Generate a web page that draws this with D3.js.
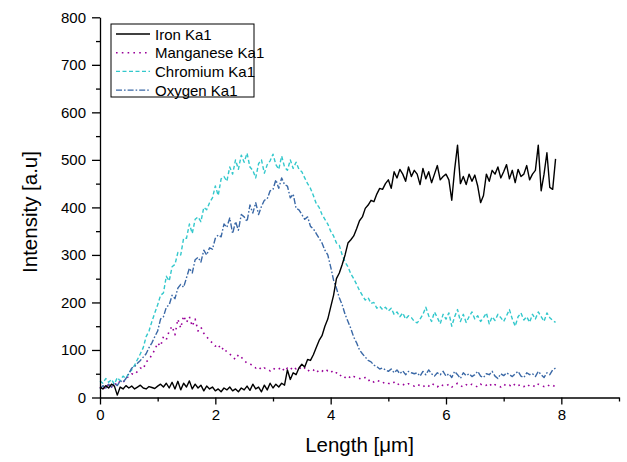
<!DOCTYPE html>
<html>
<head>
<meta charset="utf-8">
<script src="https://cdn.jsdelivr.net/npm/d3@7"></script>
<style>
  html, body { margin: 0; padding: 0; background: #fff; }
  svg { display: block; font-family: "Liberation Sans", Arial, sans-serif; }
</style>
</head>
<body>
<svg id="chart" width="627" height="462"></svg>
<script>
// Line-scan positions (µm)
const lengthUm = [
  0.00,0.05,0.10,0.15,0.20,0.25,0.30,0.35,0.40,0.45,
  0.50,0.55,0.60,0.65,0.70,0.75,0.80,0.85,0.90,0.95,
  1.00,1.05,1.10,1.15,1.20,1.25,1.30,1.35,1.40,1.45,
  1.50,1.55,1.60,1.65,1.70,1.75,1.80,1.85,1.90,1.95,
  2.00,2.05,2.10,2.15,2.20,2.25,2.30,2.35,2.40,2.45,
  2.50,2.55,2.60,2.65,2.70,2.75,2.80,2.85,2.90,2.95,
  3.00,3.05,3.10,3.15,3.20,3.25,3.30,3.35,3.40,3.45,
  3.50,3.55,3.60,3.65,3.70,3.75,3.80,3.85,3.90,3.95,
  4.00,4.05,4.10,4.15,4.20,4.25,4.30,4.35,4.40,4.45,
  4.50,4.55,4.60,4.65,4.70,4.75,4.80,4.85,4.90,4.95,
  5.00,5.05,5.10,5.15,5.20,5.25,5.30,5.35,5.40,5.45,
  5.50,5.55,5.60,5.65,5.70,5.75,5.80,5.85,5.90,5.95,
  6.00,6.05,6.10,6.15,6.20,6.25,6.30,6.35,6.40,6.45,
  6.50,6.55,6.60,6.65,6.70,6.75,6.80,6.85,6.90,6.95,
  7.00,7.05,7.10,7.15,7.20,7.25,7.30,7.35,7.40,7.45,
  7.50,7.55,7.60,7.65,7.70,7.75,7.80,7.85,7.90
];

// Fe Kα1 counts
const ironKa1 = [
  22,18,25,20,28,24,5,22,18,25,
  20,24,18,22,26,20,18,23,21,19,
  24,28,22,30,20,32,18,34,16,30,
  22,35,18,28,20,26,14,24,18,22,
  14,18,12,20,16,22,14,18,12,20,
  16,24,15,28,18,22,12,26,16,30,
  20,28,22,30,26,58,38,52,48,62,
  70,64,80,78,90,105,120,130,150,165,
  190,215,250,262,280,300,325,332,340,355,
  372,380,398,405,415,412,428,440,438,450,
  458,440,475,462,480,470,455,485,465,478,
  470,448,482,460,475,452,470,488,458,465,
  470,458,415,480,531,450,465,448,470,455,
  468,445,410,425,470,455,478,470,485,462,
  475,490,460,478,452,480,465,470,488,458,
  470,478,531,435,470,515,442,438,502
];

// Mn Kα1 counts
const manganeseKa1 = [
  20,25,18,28,22,30,26,35,32,40,
  45,50,48,55,62,60,75,80,90,100,
  115,108,128,122,140,150,132,165,146,172,
  158,170,150,165,140,148,135,128,120,115,
  108,112,100,105,95,92,85,80,90,85,
  78,72,70,68,62,65,58,62,60,56,
  62,58,60,64,55,62,58,65,60,64,
  58,62,55,60,58,52,58,55,60,56,
  58,50,52,45,48,42,46,40,44,42,
  40,38,42,35,38,32,36,34,30,33,
  30,28,32,26,30,28,25,29,26,24,
  28,25,22,27,24,30,26,22,28,25,
  24,28,22,26,30,25,22,27,24,28,
  25,22,28,24,26,30,23,27,25,22,
  28,24,26,22,29,25,27,23,28,24,
  26,22,28,25,23,27,24,26,22
];

// Cr Kα1 counts
const chromiumKa1 = [
  35,30,40,32,38,28,42,35,45,40,
  52,58,68,80,92,105,128,140,160,178,
  195,215,220,255,245,275,280,305,300,335,
  335,365,345,375,380,370,400,395,410,420,
  445,425,460,465,455,485,470,500,480,510,
  495,514,485,478,462,492,500,472,490,498,
  512,490,480,508,485,478,500,482,495,480,
  475,462,450,440,425,408,400,385,375,365,
  350,340,325,320,300,285,275,260,250,238,
  225,215,205,210,198,200,188,192,185,190,
  182,188,175,180,170,178,165,172,168,160,
  157,165,175,190,172,160,180,168,155,175,
  165,178,150,170,185,160,175,158,170,180,
  165,172,160,168,178,155,170,162,175,168,
  160,172,185,165,150,170,178,163,170,158,
  175,165,180,170,160,178,168,162,158
];

// O Kα1 counts
const oxygenKa1 = [
  18,25,20,28,22,30,25,35,32,40,
  50,62,65,72,78,85,92,105,115,128,
  140,165,170,190,195,215,208,230,238,232,
  252,272,262,290,295,285,310,300,315,312,
  335,342,338,365,358,378,345,370,352,385,
  380,370,405,388,410,385,402,415,418,435,
  438,458,440,462,448,445,420,428,398,395,
  385,375,380,360,355,345,335,325,310,300,
  275,247,230,210,195,175,160,145,127,115,
  100,92,85,78,75,68,65,60,62,58,
  55,60,52,58,50,56,48,55,52,50,
  52,45,55,48,58,50,45,52,48,55,
  45,50,42,55,48,40,52,46,50,44,
  48,55,45,42,50,48,55,45,40,50,
  46,52,48,44,50,55,45,42,52,48,
  50,44,55,48,42,52,48,58,62
];

const seriesNames = ["Iron Ka1", "Manganese Ka1", "Chromium Ka1", "Oxygen Ka1"];
const xMajorTicks = [0, 2, 4, 6, 8];
const xMinorTicks = [1, 3, 5, 7, 9];
const yMajorTicks = [0, 100, 200, 300, 400, 500, 600, 700, 800];
const yMinorTicks = [50, 150, 250, 350, 450, 550, 650, 750];

const styles = {
  "Iron Ka1":      { values: ironKa1,      color: "#000000", width: 1.4, dash: null },
  "Manganese Ka1": { values: manganeseKa1, color: "#990099", width: 1.6, dash: "1.6,4.2" },
  "Chromium Ka1":  { values: chromiumKa1,  color: "#33c8cc", width: 1.4, dash: "4,2.5" },
  "Oxygen Ka1":    { values: oxygenKa1,    color: "#3a68a6", width: 1.4, dash: "6,2,1.6,2" }
};

const svg = d3.select("#chart");

const x = d3.scaleLinear().domain([0, 9]).range([100, 619]);
const y = d3.scaleLinear().domain([0, 800]).range([397.5, 17.3]);

// Data lines (iron drawn last so it sits on top)
const drawOrder = ["Manganese Ka1", "Chromium Ka1", "Oxygen Ka1", "Iron Ka1"];
const line = d3.line()
  .x((d, i) => x(lengthUm[i]))
  .y(d => y(d));

const plot = svg.append("g");
drawOrder.forEach(name => {
  const s = styles[name];
  plot.append("path")
    .datum(s.values)
    .attr("d", line)
    .attr("fill", "none")
    .attr("stroke", s.color)
    .attr("stroke-width", s.width)
    .attr("stroke-linejoin", "round")
    .attr("stroke-dasharray", s.dash);
});

// Axes
function styleAxis(g) {
  g.selectAll("path.domain").attr("stroke", "#000").attr("stroke-width", 1.3);
  g.selectAll(".tick line").attr("stroke", "#000").attr("stroke-width", 1.3);
  g.selectAll(".tick text")
    .attr("fill", "#000")
    .style("font-family", "'Liberation Sans', Arial, sans-serif")
    .style("font-size", "15px");
}

const xAxisG = svg.append("g").attr("transform", `translate(0,${y(0)})`);
xAxisG.append("g")
  .call(d3.axisBottom(x).tickValues(xMinorTicks).tickSize(4).tickSizeOuter(0).tickFormat(""))
  .call(styleAxis);
xAxisG.append("g")
  .call(d3.axisBottom(x).tickValues(xMajorTicks).tickSize(7).tickSizeOuter(0).tickPadding(5).tickFormat(d3.format("d")))
  .call(styleAxis)
  .call(g => g.select("path.domain").remove());

const yAxisG = svg.append("g").attr("transform", `translate(${x(0)},0)`);
yAxisG.append("g")
  .call(d3.axisLeft(y).tickValues(yMinorTicks).tickSize(4).tickSizeOuter(0).tickFormat(""))
  .call(styleAxis);
yAxisG.append("g")
  .call(d3.axisLeft(y).tickValues(yMajorTicks).tickSize(8).tickSizeOuter(0).tickPadding(6).tickFormat(d3.format("d")))
  .call(styleAxis)
  .call(g => g.select("path.domain").remove());

// Axis titles
svg.append("text")
  .attr("x", (x.range()[0] + x.range()[1]) / 2)
  .attr("y", 452)
  .attr("text-anchor", "middle")
  .style("font-size", "20.5px")
  .text("Length [μm]");

svg.append("text")
  .attr("transform", `translate(37,212) rotate(-90)`)
  .attr("text-anchor", "middle")
  .style("font-size", "20.5px")
  .text("Intensity [a.u]");

// Legend
const legend = svg.append("g");
legend.append("rect")
  .attr("x", 111).attr("y", 24)
  .attr("width", 143).attr("height", 73)
  .attr("fill", "#fff")
  .attr("stroke", "#000")
  .attr("stroke-width", 1);

seriesNames.forEach((name, i) => {
  const s = styles[name];
  const cy = 34 + i * 18.7;
  legend.append("line")
    .attr("x1", 116).attr("x2", 150)
    .attr("y1", cy).attr("y2", cy)
    .attr("stroke", s.color)
    .attr("stroke-width", s.width)
    .attr("stroke-dasharray", s.dash);
  legend.append("text")
    .attr("x", 155).attr("y", cy)
    .attr("dominant-baseline", "central")
    .style("font-size", "15px")
    .text(name);
});
</script>
</body>
</html>
